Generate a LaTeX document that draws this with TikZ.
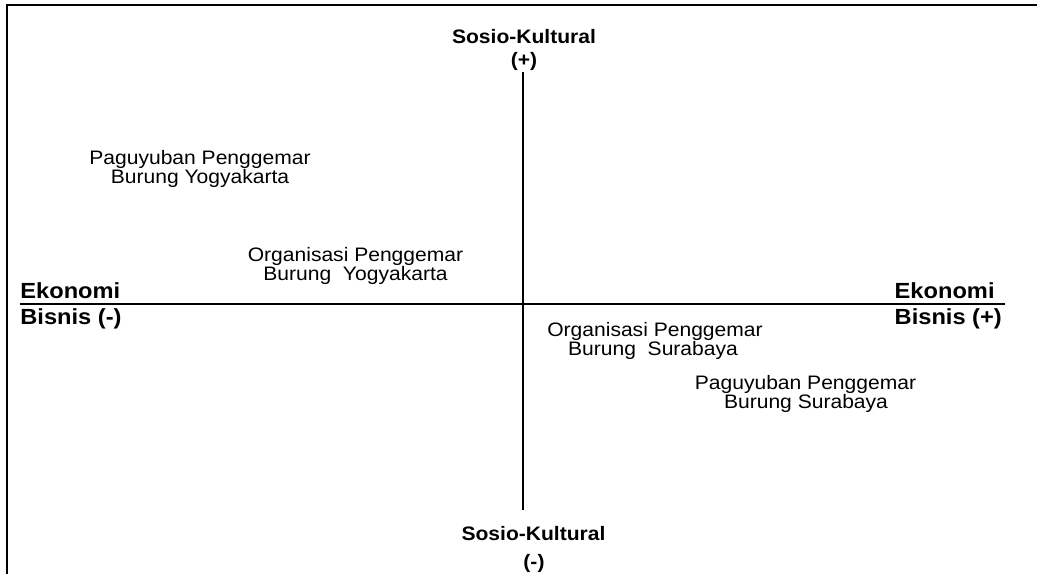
\documentclass[tikz,border=0pt]{standalone}
\usepackage{fontspec}
\setmainfont[FakeStretch=1.08]{Liberation Sans}
\tikzset{
  txt/.style={font=\fontsize{19.5}{21}\selectfont, inner sep=0pt, anchor=base},
  bold/.style={txt, font=\fontsize{19.5}{21}\selectfont\bfseries},
  bigbold/.style={txt, font=\fontsize{21.9}{24}\selectfont\bfseries, anchor=base west},
  frameline/.style={line width=2pt, black},
  axisline/.style={line width=1.2pt, black}
}
\begin{document}
\begin{tikzpicture}[x=1pt,y=-1pt]
\useasboundingbox (0,0) rectangle (1037,574);
% frame
\coordinate (fTR) at (1037,5.3);
\coordinate (fTL) at (7,5.3);
\coordinate (fBL) at (7,574);
\draw[frameline] (fTR) -- (fTL) -- (fBL);
% axes
\coordinate (xL) at (20,304);
\coordinate (xR) at (1005,304);
\coordinate (yT) at (523,72);
\coordinate (yB) at (523,510);
\draw[axisline] (xL) -- (xR);
\draw[axisline] (yT) -- (yB);
% axis labels
\node[bold] (sk1) at (524,43) {Sosio-Kultural};
\node[bold] (sk2) at (524,66.8) {(+)};
\node[bold] (sk3) at (533.5,540) {Sosio-Kultural};
\node[bold] (sk4) at (534,568) {(-)};
\node[bigbold] (el1) at (20.2,298.3) {Ekonomi};
\node[bigbold] (el2) at (20.2,324) {Bisnis (-)};
\node[bigbold] (er1) at (894.5,298.3) {Ekonomi};
\node[bigbold] (er2) at (894.5,324) {Bisnis (+)};
% items
\node[txt] (py1) at (200,164) {Paguyuban Penggemar};
\node[txt] (py2) at (200,183.3) {Burung Yogyakarta};
\node[txt] (oy1) at (355.5,261.5) {Organisasi Penggemar};
\node[txt] (oy2) at (355.5,280.7) {Burung\ \ Yogyakarta};
\node[txt] (os1) at (655,336.5) {Organisasi Penggemar};
\node[txt] (os2) at (653,355.7) {Burung\ \ Surabaya};
\node[txt] (ps1) at (805.5,389.5) {Paguyuban Penggemar};
\node[txt] (ps2) at (806,408.3) {Burung Surabaya};
\end{tikzpicture}
\end{document}
